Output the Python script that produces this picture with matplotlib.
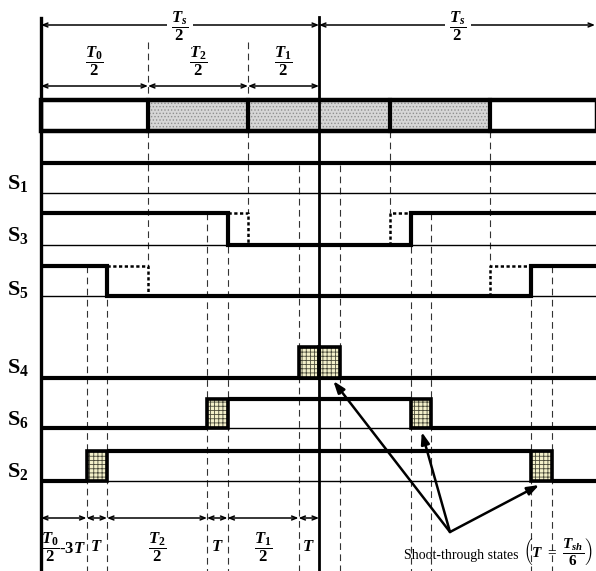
import matplotlib
matplotlib.use("Agg")
import matplotlib.pyplot as plt
from matplotlib.patches import Rectangle

plt.rcParams['font.family'] = ['Liberation Serif', 'DejaVu Serif']
plt.rcParams['mathtext.fontset'] = 'custom'
plt.rcParams['mathtext.rm'] = 'Liberation Serif:bold'
plt.rcParams['mathtext.it'] = 'Liberation Serif:bold:italic'
plt.rcParams['mathtext.bf'] = 'Liberation Serif:bold'
plt.rcParams['hatch.linewidth'] = 0.6

# ---------------- data (durations, arbitrary time units) ----------------
T0_half = 107.0     # T0/2
T2_half = 100.0     # T2/2
T1_half = 71.0      # T1/2
T_sh = 20.5         # T = Tsh/6
signal_names = ['S$_1$', 'S$_3$', 'S$_5$', 'S$_4$', 'S$_6$', 'S$_2$']
top_labels = [r'$\dfrac{T_{\mathit{0}}}{2}$', r'$\dfrac{T_{\mathit{2}}}{2}$', r'$\dfrac{T_{\mathit{1}}}{2}$']
bottom_labels = [r'$\dfrac{T_{\mathit{0}}}{2}$-3$T$', r'$T$', r'$\dfrac{T_{\mathit{2}}}{2}$',
                 r'$T$', r'$\dfrac{T_{\mathit{1}}}{2}$', r'$T$']
half_label = r'$\dfrac{T_s}{2}$'

# derived instants
Th = T0_half + T2_half + T1_half      # Ts/2
Ts = 2 * Th
e1 = T0_half
e2 = T0_half + T2_half
e3 = Th
T = T_sh

# ---------------- layout (pixel-like vertical positions) ----------------
fig = plt.figure(figsize=(5.96, 5.71), dpi=100)
ax = fig.add_axes([0, 0, 1, 1])
ax.set_xlim(-41, 555)
ax.set_ylim(571, 0)
ax.axis('off')

rows = {  # name: (high_y, base_y)
    'S1': (163, 193), 'S3': (213, 245), 'S5': (266, 296),
    'S4': (347, 378), 'S6': (399, 428), 'S2': (451, 481),
}
label_y = [183, 235, 290, 368, 420, 471]
THICK = 3.0
THIN = 1.0
K = 'black'

def thick(xs, ys, **kw):
    ax.plot(xs, ys, color=K, lw=THICK, solid_capstyle='butt', solid_joinstyle='miter', **kw)

def dashed(x, y0, y1):
    ax.plot([x, x], [y0, y1], color='#333333', lw=0.8, ls=(0, (6, 4)))

def dotted(xs, ys):
    ax.plot(xs, ys, color=K, lw=1.8, ls=(0, (1.3, 1.0)), solid_capstyle='butt')

def darrow(x0, x1, y):
    ax.annotate('', xy=(x1, y), xytext=(x0, y),
                arrowprops=dict(arrowstyle='<->,head_length=0.35,head_width=0.14',
                                lw=1.1, color=K, shrinkA=0, shrinkB=0))

def st_box(t0, t1, y_hi, y_lo):
    ax.add_patch(Rectangle((t0, y_hi), t1 - t0, y_lo - y_hi, facecolor='#f2efc9',
                           edgecolor='#4a4a3a', hatch='++++', lw=0, zorder=3))
    ax.add_patch(Rectangle((t0, y_hi), t1 - t0, y_lo - y_hi, facecolor='none',
                           edgecolor=K, lw=2.6, zorder=4))

# ---------------- dashed guide lines ----------------
dashed(e1, 42, 266)
dashed(e2, 42, 213)
dashed(Ts - e2, 131, 213)
dashed(Ts - e1, 131, 266)
for t in [e1 - 3 * T, e1 - 2 * T, Ts - e1 + 2 * T, Ts - e1 + 3 * T]:
    dashed(t, 266, 571)
for t in [e2 - 2 * T, e2 - T, Ts - e2 + T, Ts - e2 + 2 * T]:
    dashed(t, 213, 571)
for t in [e3 - T, e3 + T]:
    dashed(t, 165, 571)

# ---------------- top bar ----------------
ax.add_patch(Rectangle((e1, 100), Ts - 2 * e1, 31, facecolor='#d6d6d6',
                       edgecolor='#8f8f8f', hatch='.....', lw=0, zorder=1))
ax.add_patch(Rectangle((0, 100), Ts, 31, facecolor='none', edgecolor=K, lw=3.2, zorder=2))
for t in [e1, e2, Ts - e2, Ts - e1]:
    ax.plot([t, t], [100, 131], color=K, lw=3.0, zorder=2)

# ---------------- signals ----------------
for name, (hi, lo) in rows.items():
    ax.plot([0, Ts], [lo, lo], color=K, lw=THIN)

# S1 always on
hi, lo = rows['S1']
thick([0, Ts], [hi, hi])

# S3
hi, lo = rows['S3']
a3, b3 = e2 - T, Ts - e2 + T
thick([0, a3, a3, b3, b3, Ts], [hi, hi, lo, lo, hi, hi])
dotted([a3, e2, e2], [hi, hi, lo])
dotted([Ts - e2, Ts - e2, b3], [lo, hi, hi])

# S5
hi, lo = rows['S5']
a5, b5 = e1 - 2 * T, Ts - e1 + 2 * T
thick([0, a5, a5, b5, b5, Ts], [hi, hi, lo, lo, hi, hi])
dotted([a5, e1, e1], [hi, hi, lo])
dotted([Ts - e1, Ts - e1, b5], [lo, hi, hi])

# S4 (complement of S1) + shoot-through
hi, lo = rows['S4']
thick([0, Ts], [lo, lo])
st_box(e3 - T, e3, hi, lo)
st_box(e3, e3 + T, hi, lo)

# S6 (complement of S3) + shoot-through
hi, lo = rows['S6']
thick([0, e2 - 2 * T], [lo, lo])
thick([e2 - T, Ts - e2 + T], [hi, hi])
thick([Ts - e2 + 2 * T, Ts], [lo, lo])
st_box(e2 - 2 * T, e2 - T, hi, lo)
st_box(Ts - e2 + T, Ts - e2 + 2 * T, hi, lo)

# S2 (complement of S5) + shoot-through
hi, lo = rows['S2']
thick([0, e1 - 3 * T], [lo, lo])
thick([e1 - 2 * T, Ts - e1 + 2 * T], [hi, hi])
thick([Ts - e1 + 3 * T, Ts], [lo, lo])
st_box(e1 - 3 * T, e1 - 2 * T, hi, lo)
st_box(Ts - e1 + 2 * T, Ts - e1 + 3 * T, hi, lo)

# main vertical lines
ax.plot([0, 0], [18, 571], color=K, lw=2.4, zorder=5)
ax.plot([Th, Th], [17, 571], color=K, lw=2.0, zorder=5)

# signal labels
for nm, y in zip(signal_names, label_y):
    ax.text(-34, y, nm, fontsize=16, fontweight='bold', ha='left', va='center')

# ---------------- dimension arrows ----------------
darrow(0, Th, 25)
darrow(Th, Ts - 2, 25)
for xc in [Th / 2, Th + Th / 2]:
    ax.text(xc, 26, half_label, fontsize=12, ha='center', va='center',
            bbox=dict(facecolor='white', edgecolor='none', pad=3), zorder=6)

bounds_top = [0, e1, e2, e3]
for i in range(3):
    darrow(bounds_top[i], bounds_top[i + 1], 86)
    ax.text((bounds_top[i] + bounds_top[i + 1]) / 2, 61, top_labels[i],
            fontsize=12, ha='center', va='center')

durs = [T0_half - 3 * T, T, T2_half, T, T1_half, T]
bounds_bot = [0]
for d in durs:
    bounds_bot.append(bounds_bot[-1] + d)
for i in range(6):
    darrow(bounds_bot[i], bounds_bot[i + 1], 518)
    ax.text((bounds_bot[i] + bounds_bot[i + 1]) / 2, 547, bottom_labels[i],
            fontsize=12, ha='center', va='center', fontweight='bold')

# ---------------- shoot-through annotation ----------------
tail = (409, 532)
targets = [(e3 + 0.7 * T, 381), (Ts - e2 + 1.55 * T, 432), (Ts - e1 + 2.4 * T, 485)]
for tx, ty in targets:
    ax.annotate('', xy=(tx, ty), xytext=tail,
                arrowprops=dict(arrowstyle='-|>,head_length=0.7,head_width=0.25',
                                lw=1.8, color=K, shrinkA=0, shrinkB=0))
ax.text(363, 555, 'Shoot-through states', fontsize=10, ha='left', va='center')
ax.text(517, 553, r'$\left(T\ =\ \dfrac{T_{sh}}{6}\right)$', fontsize=11,
        ha='center', va='center')

fig.savefig('out.png', dpi=100)
